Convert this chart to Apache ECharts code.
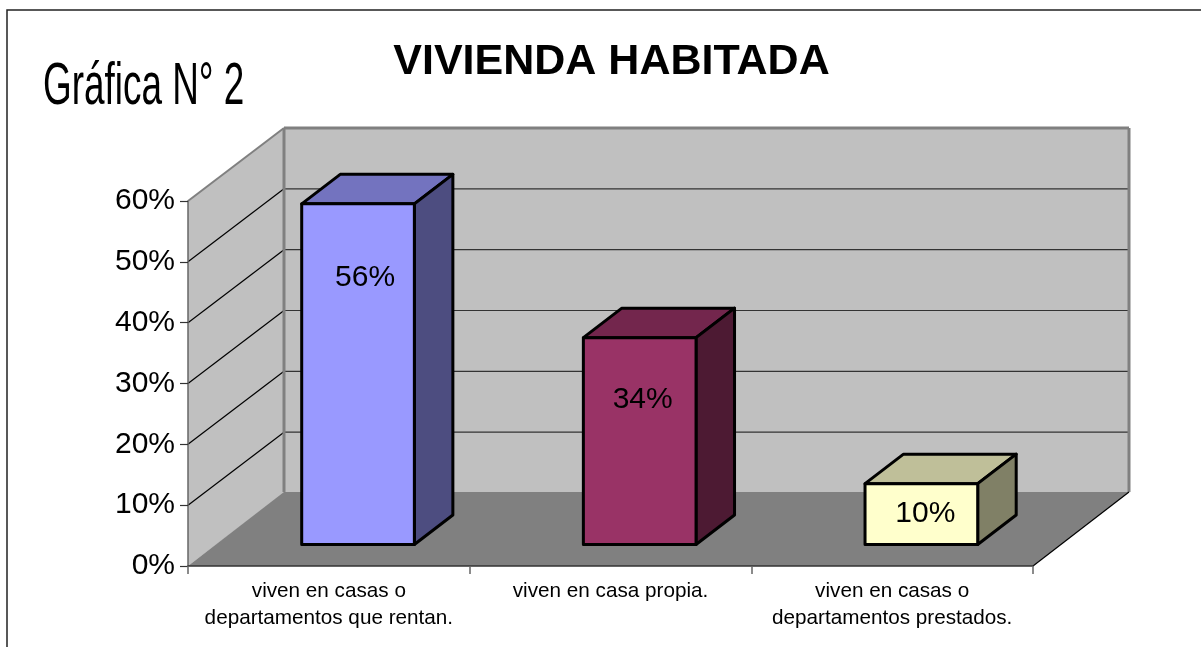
<!DOCTYPE html>
<html>
<head>
<meta charset="utf-8">
<title>VIVIENDA HABITADA</title>
<script src="https://cdn.jsdelivr.net/npm/echarts@6/dist/echarts.min.js"></script>
<style>
	html, body { margin: 0; padding: 0; background: #fff; }
	#chart { width: 1201px; height: 647px; }
</style>
</head>
<body>
<div id="chart"></div>
<script>
const chartTitle = "VIVIENDA HABITADA"
const chartTag = "Gráfica N° 2"
const categories = [
	"viven en casas o\ndepartamentos que rentan.",
	"viven en casa propia.",
	"viven en casas o\ndepartamentos prestados."
]
const shares = [56, 34, 10]
const gridValues = [10, 20, 30, 40, 50]

const FONT = "'Liberation Sans', Arial, sans-serif"
// depth of the fake 3d box, in pixels
const WALL_DX = 96
const WALL_DY = 73
const FLOOR_DY = 74
const BAR_DX = 38.5
const BAR_DY = 29.5
// bars stand in the middle of the floor
const BAR_SHIFT_X = 29.2
const BAR_SHIFT_Y = 21.5
const barColors = [
	{ front: "#9999ff", top: "#7373bf", side: "#4d4d80" },
	{ front: "#993366", top: "#73264d", side: "#4d1a33" },
	{ front: "#ffffcc", top: "#bfbf99", side: "#808066" }
]
// the value labels were moved by hand in the original
const labelShift = [[7, 74], [3, 62], [4, 30]]

function poly(points, fill, stroke, width) {
	return {
		type: "polygon",
		shape: { points },
		style: { fill, stroke: stroke || null, lineWidth: width || 0, lineJoin: "round" }
	}
}

function line(a, b, stroke, width) {
	return {
		type: "line",
		shape: { x1: a[0], y1: a[1], x2: b[0], y2: b[1] },
		style: { stroke, lineWidth: width }
	}
}

function renderWalls(params, api) {
	const half = api.size([1, 0])[0] / 2
	const x0 = api.coord([0, 0])[0] - half
	const x1 = api.coord([categories.length - 1, 0])[0] + half
	const y0 = api.coord([0, 0])[1]
	const yTop = api.coord([0, 60])[1]
	const bx0 = x0 + WALL_DX
	const bx1 = x1 + WALL_DX
	const children = [
		poly([[bx0, yTop - WALL_DY], [bx1, yTop - WALL_DY], [bx1, y0 - WALL_DY], [bx0, y0 - WALL_DY]], "#c0c0c0"),
		poly([[x0, yTop], [bx0, yTop - WALL_DY], [bx0, y0 - WALL_DY], [x0, y0]], "#c0c0c0"),
		poly([[x0, y0], [bx0, y0 - FLOOR_DY], [bx1, y0 - FLOOR_DY], [x1, y0]], "#808080")
	]
	gridValues.forEach(v => {
		const y = api.coord([0, v])[1]
		children.push(line([x0, y], [bx0, y - WALL_DY], "#000", 1.2))
		children.push(line([bx0, y - WALL_DY], [bx1, y - WALL_DY], "#333", 1.2))
	})
	children.push(line([x0, yTop], [bx0, yTop - WALL_DY], "#808080", 2))
	children.push(line([bx0, yTop - WALL_DY], [bx1, yTop - WALL_DY], "#808080", 3))
	children.push(line([bx0, yTop - WALL_DY], [bx0, y0 - FLOOR_DY], "#808080", 3))
	children.push(line([bx1, yTop - WALL_DY], [bx1, y0 - FLOOR_DY], "#808080", 3))
	children.push(line([x1, y0], [bx1, y0 - FLOOR_DY], "#000", 1.2))
	return { type: "group", children }
}

function renderBar(params, api) {
	const i = api.value(0)
	const top = api.coord([i, api.value(1)])
	const base = api.coord([i, 0])
	const w = api.size([1, 0])[0] * 0.4
	const colors = barColors[i]
	const xl = top[0] + BAR_SHIFT_X - w / 2
	const xr = xl + w
	const yt = top[1] - BAR_SHIFT_Y
	const yb = base[1] - BAR_SHIFT_Y
	const shift = labelShift[i]
	return {
		type: "group",
		children: [
			poly([[xl, yt], [xl + BAR_DX, yt - BAR_DY], [xr + BAR_DX, yt - BAR_DY], [xr, yt]], colors.top, "#000", 3),
			poly([[xr, yt], [xr + BAR_DX, yt - BAR_DY], [xr + BAR_DX, yb - BAR_DY], [xr, yb]], colors.side, "#000", 3),
			poly([[xl, yt], [xr, yt], [xr, yb], [xl, yb]], colors.front, "#000", 3),
			{
				type: "text",
				style: {
					x: (xl + xr) / 2 + shift[0],
					y: yt + shift[1],
					text: api.value(1) + "%",
					font: "30px " + FONT,
					fill: "#000",
					align: "center",
					verticalAlign: "middle"
				}
			}
		]
	}
}

const myChart = echarts.init(document.getElementById("chart"), null, { renderer: "canvas" })
myChart.setOption({
	animation: false,
	backgroundColor: "#fff",
	textStyle: { fontFamily: FONT },
	title: {
		text: chartTitle,
		left: 606.5,
		top: 36,
		textAlign: "center",
		textStyle: { fontFamily: FONT, fontSize: 43, fontWeight: "bold", color: "#000" }
	},
	graphic: [
		{
			type: "polyline",
			shape: { points: [[7, 647], [7, 10], [1201, 10]] },
			style: { stroke: "#222", lineWidth: 1.5, fill: null }
		},
		{
			type: "text",
			x: 43,
			y: 57,
			scaleX: 0.615,
			style: { text: chartTag, font: "60px " + FONT, fill: "#000" }
		}
	],
	grid: { left: 188, top: 201, width: 845, height: 365 },
	xAxis: {
		type: "category",
		data: categories,
		z: 5,
		axisLine: { lineStyle: { color: "#333", width: 1.5 } },
		axisTick: { show: true, alignWithLabel: false, length: 8, lineStyle: { color: "#666", width: 1.5 } },
		axisLabel: {
			interval: 0,
			margin: 12,
			fontFamily: FONT,
			fontSize: 20.7,
			lineHeight: 27,
			color: "#000"
		}
	},
	yAxis: {
		type: "value",
		min: 0,
		max: 60,
		interval: 10,
		z: 5,
		splitLine: { show: false },
		axisLine: { show: true, lineStyle: { color: "#666", width: 1.5 } },
		axisTick: { show: true, length: 8, lineStyle: { color: "#333", width: 1.2 } },
		axisLabel: {
			formatter: "{value}%",
			margin: 13,
			fontFamily: FONT,
			fontSize: 30,
			padding: [5, 0, 0, 0],
			color: "#000"
		}
	},
	series: [
		{
			name: "walls",
			type: "custom",
			z: 1,
			silent: true,
			renderItem: renderWalls,
			data: [[0, 0]]
		},
		{
			name: "vivienda",
			type: "custom",
			z: 6,
			renderItem: renderBar,
			encode: { x: 0, y: 1 },
			data: shares.map((v, i) => [i, v])
		}
	]
})
</script>
</body>
</html>
